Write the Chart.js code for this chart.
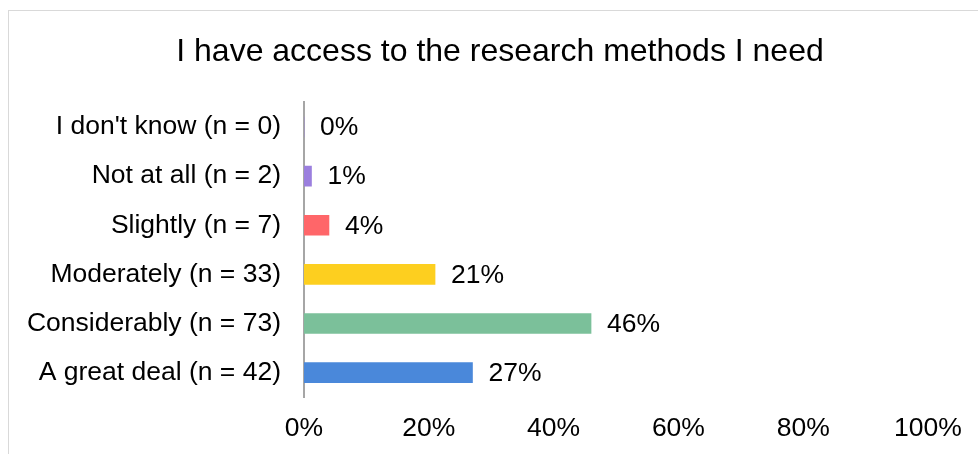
<!DOCTYPE html>
<html>
<head>
<meta charset="utf-8">
<script src="https://cdn.jsdelivr.net/npm/chart.js@4"></script>
<style>
  html, body { margin: 0; padding: 0; background: #ffffff; }
  #wrap { position: relative; width: 978px; height: 454px; overflow: hidden; }
  #frame { position: absolute; left: 8px; top: 10px; width: 1100px; height: 600px; border: 1px solid #d9d9d9; box-sizing: border-box; }
  #c { position: absolute; left: 0; top: 0; }
</style>
</head>
<body>
<div id="wrap">
  <div id="frame"></div>
  <canvas id="c" width="978" height="454"></canvas>
</div>
<script>
const categories = [
  "I don't know (n = 0)",
  "Not at all (n = 2)",
  "Slightly (n = 7)",
  "Moderately (n = 33)",
  "Considerably (n = 73)",
  "A great deal (n = 42)"
];
const percentValues = [0, 1.2, 4.0, 21.0, 46.0, 27.0];
const barColors = ["#9b7fde", "#9b7fde", "#ff6669", "#fdcf1f", "#7bc09a", "#4a88da"];
const xTickValues = [0, 20, 40, 60, 80, 100];
const titleText = "I have access to the research methods I need";

const FONT = "'Liberation Sans', Arial, sans-serif";

const valueLabels = {
  id: 'valueLabels',
  afterDatasetsDraw(chart) {
    const ctx = chart.ctx;
    const meta = chart.getDatasetMeta(0);
    ctx.save();
    ctx.font = "26.5px " + FONT;
    ctx.fillStyle = "#000000";
    ctx.textAlign = "left";
    ctx.textBaseline = "middle";
    meta.data.forEach((bar, i) => {
      const v = percentValues[i];
      ctx.fillText(Math.round(v) + "%", bar.x + 16, bar.y + 1);
    });
    ctx.restore();
  }
};

new Chart(document.getElementById('c'), {
  type: 'bar',
  data: {
    labels: categories,
    datasets: [{
      data: percentValues,
      backgroundColor: barColors,
      borderWidth: 0,
      barThickness: 20
    }]
  },
  options: {
    responsive: false,
    animation: false,
    indexAxis: 'y',
    layout: { padding: { left: 22, right: 0, top: 0, bottom: 1 } },
    plugins: {
      legend: { display: false },
      tooltip: { enabled: false },
      title: {
        display: true,
        text: titleText,
        color: "#000000",
        font: { family: FONT, size: 32, weight: 'normal' },
        padding: { top: 33, bottom: 31 }
      }
    },
    scales: {
      x: {
        min: 0,
        max: 100,
        afterBuildTicks(scale) {
          scale.ticks = xTickValues.map(v => ({ value: v }));
        },
        grid: { display: false },
        border: { display: false },
        ticks: {
          color: "#000000",
          font: { family: FONT, size: 26.5 },
          padding: 8,
          maxRotation: 0,
          callback: (v) => v + "%"
        }
      },
      y: {
        grid: { display: false },
        border: { display: true, color: "#a6a6a6", width: 2 },
        afterFit(scale) { scale.width = 282; },
        ticks: {
          color: "#000000",
          font: { family: FONT, size: 26.5 },
          padding: 15
        }
      },
      yRight: {
        type: 'category',
        position: 'right',
        display: true,
        grid: { display: false },
        border: { display: false },
        ticks: { display: false },
        afterFit(scale) { scale.width = 50; }
      }
    }
  },
  plugins: [valueLabels]
});
</script>
</body>
</html>
